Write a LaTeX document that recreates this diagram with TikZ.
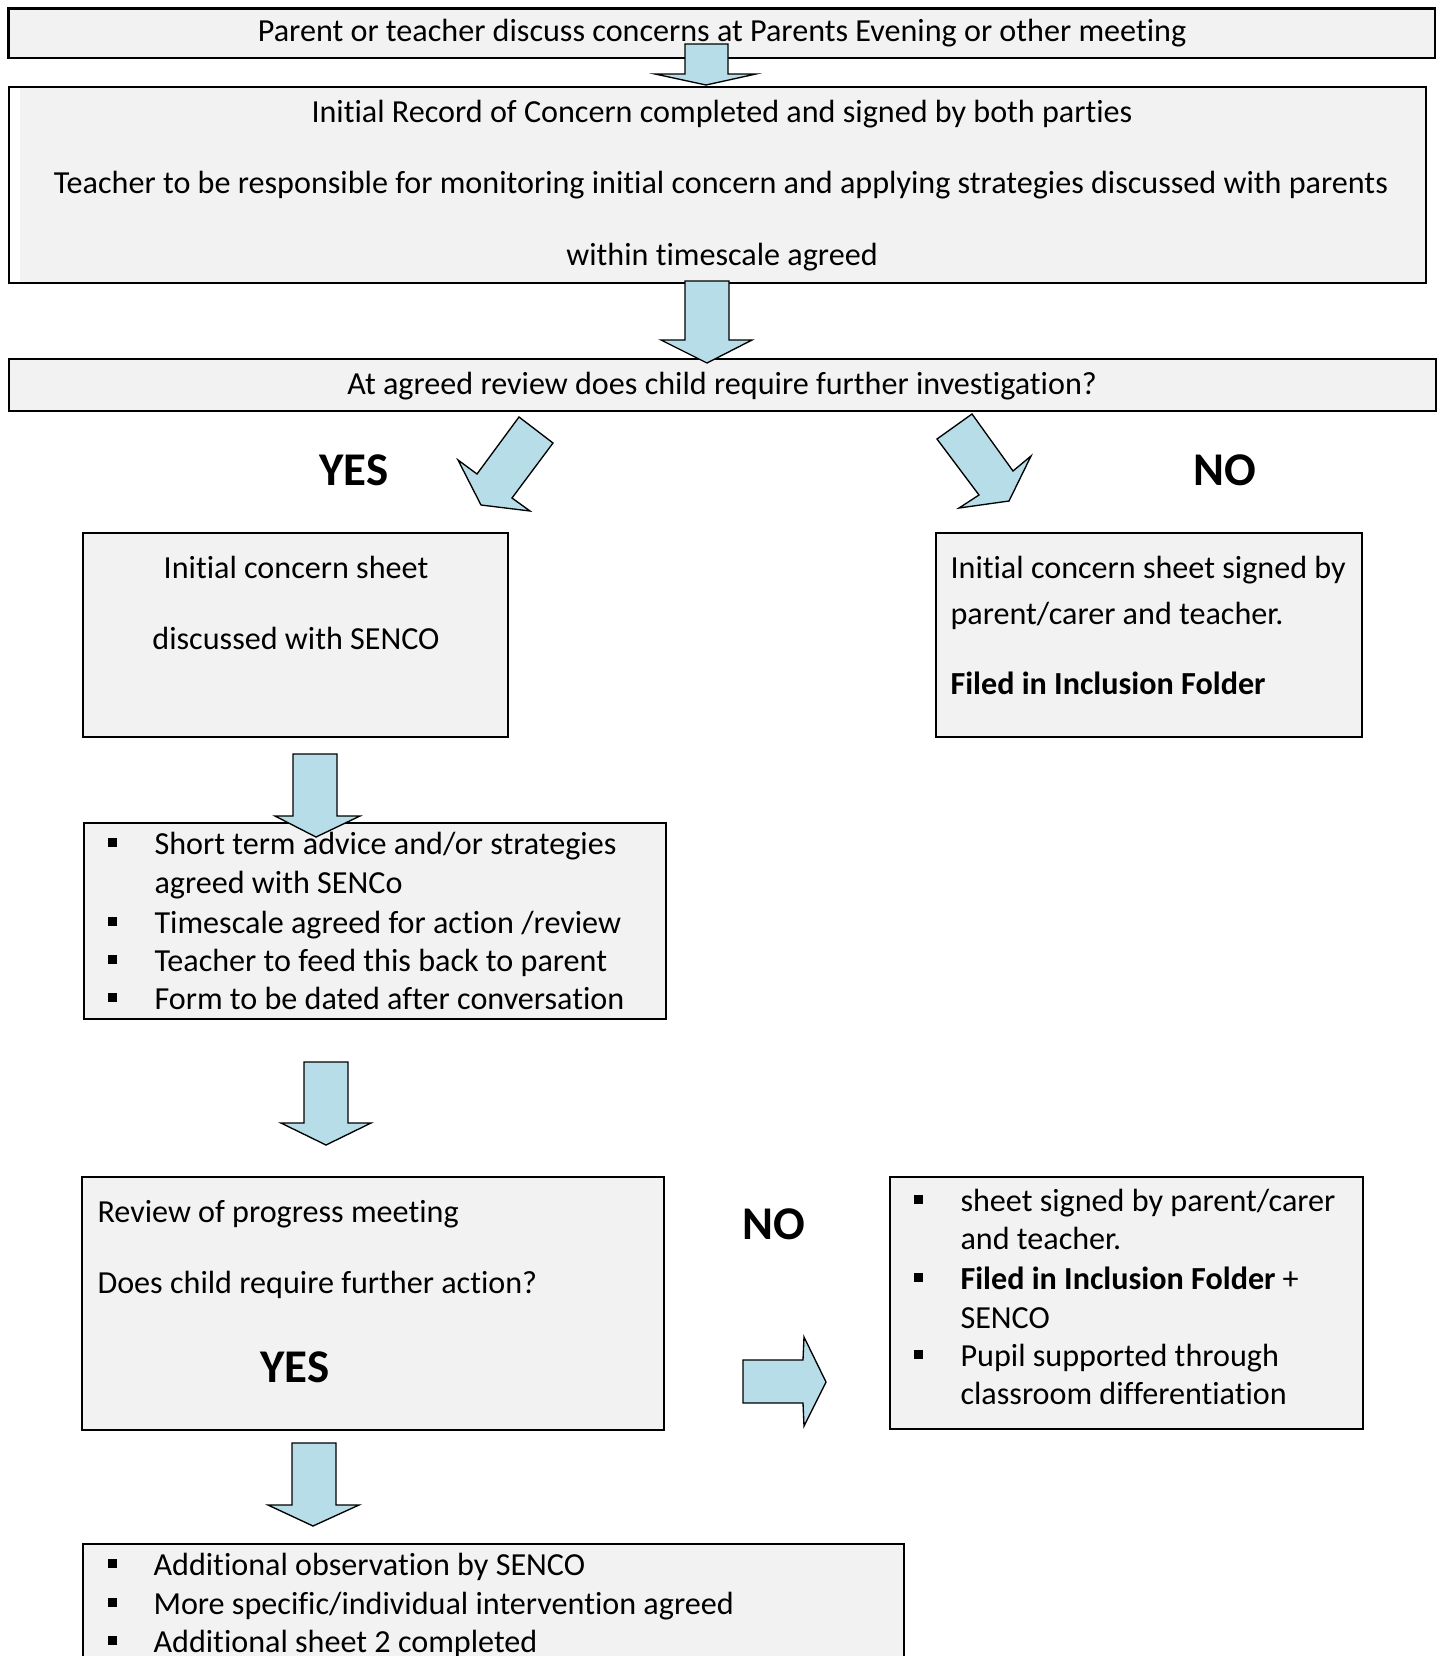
\documentclass[tikz,border=0pt]{standalone}
\usepackage{fontspec}
\setmainfont{Carlito}[Ligatures=NoCommon]
\usetikzlibrary{fit}
\definecolor{boxgray}{HTML}{F2F2F2}
\definecolor{arrowblue}{HTML}{B7DEE8}
\begin{document}
\begin{tikzpicture}[x=0.375pt,y=-0.375pt,
  box/.style={draw=black, line width=0.9pt, fill=boxgray, inner sep=0pt},
  blk/.style={draw=black, line width=0.5pt, fill=arrowblue, line join=miter},
  txt/.style={inner sep=0pt, font=\fontsize{12.05}{14}\selectfont, anchor=base},
  ltxt/.style={txt, anchor=base west},
  big/.style={inner sep=0pt, font=\fontsize{17.6}{20}\selectfont\bfseries, anchor=base},
  bul/.style={fill=black}]
\path[use as bounding box, clip] (0,0) rectangle (1440,1656);
\fill[white] (0,0) rectangle (1440,1656);

% ---- boxes
\node[box, fit={(8.5,8.5) (1435,58)}] (b1) {};
\node[box, fill=white, fit={(9,87) (1426,283)}] (b2) {};
\fill[boxgray] (20,88) rectangle (1425,282);
\node[box, fit={(9,359) (1436,411)}] (b3) {};
\node[box, fit={(83,533) (508,737)}] (b4) {};
\node[box, fit={(936,533) (1362,737)}] (b5) {};
\node[box, fit={(84,823) (666,1019)}] (b6) {};
\node[box, fit={(82,1177) (664,1430)}] (b7) {};
\node[box, fit={(890,1177) (1363,1429)}] (b8) {};
\node[box, fit={(83,1544) (904,1720)}] (b9) {};

% ---- block arrows
\draw[blk] (685,44) -- (728,44) -- (728,74) -- (756,74) -- (706,85) -- (655,74) -- (685,74) -- cycle;
\draw[blk] (685,281) -- (729,281) -- (729,340) -- (752,340) -- (707,363) -- (661,340) -- (685,340) -- cycle;
\draw[blk] (519,417) -- (477,474) -- (458,460) -- (481,505) -- (530,511) -- (512,498) -- (553,443) -- cycle;
\draw[blk] (972,414) -- (937,439) -- (979,495) -- (959,508) -- (1009,501) -- (1031,456) -- (1013,471) -- cycle;
\draw[blk] (293,754) -- (337,754) -- (337,816) -- (360,816) -- (316,837) -- (275,816) -- (293,816) -- cycle;
\draw[blk] (304,1062) -- (348,1062) -- (348,1123) -- (371,1123) -- (326,1145) -- (281,1123) -- (304,1123) -- cycle;
\draw[blk] (292,1443) -- (336,1443) -- (336,1505) -- (359,1505) -- (313,1526) -- (268,1505) -- (292,1505) -- cycle;
\draw[blk] (743,1360) -- (803,1360) -- (804,1337) -- (826,1382) -- (804,1426) -- (803,1403) -- (743,1403) -- cycle;

% ---- texts
\node[txt] (t1) at (722,42) {Parent or teacher discuss concerns at Parents Evening or other meeting};
\node[txt] (t2a) at (722,122) {Initial Record of Concern completed and signed by both parties};
\node[txt] (t2b) at (721,193) {Teacher to be responsible for monitoring initial concern and applying strategies discussed with parents};
\node[txt] (t2c) at (722,265) {within timescale agreed};
\node[txt] (t3) at (722,394) {At agreed review does child require further investigation?};
\node[big] (yes1) at (354,485) {YES};
\node[big] (no1) at (1225,485) {NO};
\node[txt] (t4a) at (296,578) {Initial concern sheet};
\node[txt] (t4b) at (296,649) {discussed with SENCO};
\node[ltxt] (t5a) at (950,578) {Initial concern sheet signed by};
\node[ltxt] (t5b) at (950,624) {parent/carer and teacher.};
\node[ltxt] (t5c) at (950,694) {\bfseries Filed in Inclusion Folder};

\foreach \y in {853,932,970,1008} {\fill (108,\y-15) rectangle (117,\y-6);}
\node[ltxt] (t6a) at (154,854) {Short term advice and/or strategies};
\node[ltxt] (t6b) at (154,893) {agreed with SENCo};
\node[ltxt] (t6c) at (154,933) {Timescale agreed for action /review};
\node[ltxt] (t6d) at (154,971) {Teacher to feed this back to parent};
\node[ltxt] (t6e) at (154,1009) {Form to be dated after conversation};

\node[ltxt] (t7a) at (97,1222) {Review of progress meeting};
\node[ltxt] (t7b) at (97,1293) {Does child require further action?};
\node[big] (yes2) at (295,1382) {YES};
\node[big] (no2) at (774,1239) {NO};

\foreach \y in {1210,1288,1365} {\fill (914,\y-15) rectangle (923,\y-6);}
\node[ltxt] (t8a) at (960,1211) {sheet signed by parent/carer};
\node[ltxt] (t8b) at (960,1249) {and teacher.};
\node[ltxt] (t8c) at (960,1289) {\bfseries Filed in Inclusion Folder \mdseries +};
\node[ltxt] (t8d) at (960,1328) {SENCO};
\node[ltxt] (t8e) at (960,1366) {Pupil supported through};
\node[ltxt] (t8f) at (960,1404) {classroom differentiation};

\foreach \y in {1574,1613,1651} {\fill (108,\y-15) rectangle (117,\y-6);}
\node[ltxt] (t9a) at (153,1575) {Additional observation by SENCO};
\node[ltxt] (t9b) at (153,1614) {More specific/individual intervention agreed};
\node[ltxt] (t9c) at (153,1652) {Additional sheet 2 completed};
\end{tikzpicture}
\end{document}
